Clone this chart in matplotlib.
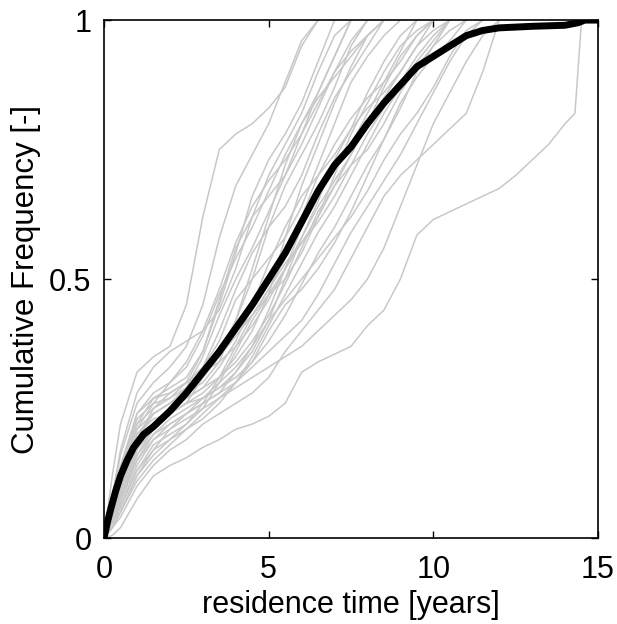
import numpy as np
import matplotlib.pyplot as plt

# common time grid (years) for the individual cumulative curves
GRID_X = [0, 0.25, 0.5, 1, 1.5, 2, 2.5, 3, 3.5, 4, 4.5, 5, 5.5, 6, 6.5, 7,
          7.5, 8, 8.5, 9, 9.5, 10, 10.5, 11, 11.5, 12, 12.5, 13, 13.5, 14,
          14.3, 14.5, 15]

# individual realisations, each stops once it hits 1
c01 = [0, .12, .22, .32, .35, .37, .45, .62, .75, .78, .80, .83, .87, .95, 1]
c02 = [0, .08, .16, .26, .30, .33, .37, .45, .58, .68, .74, .80, .88, .96, 1]
c03 = [0, .06, .12, .22, .27, .29, .31, .36, .45, .55, .66, .73, .78, .84, .92, 1]
c04 = [0, .05, .10, .19, .24, .26, .28, .30, .34, .42, .52, .62, .72, .80, .86, .93, 1]
c05 = [0, .04, .09, .18, .22, .25, .27, .29, .31, .35, .40, .47, .58, .68, .76, .84, .91, .97, 1]
c06 = [0, .07, .14, .24, .27, .28, .30, .33, .38, .46, .50, .54, .58, .64, .72, .80, .88, .93, .97, 1]
c07 = [0, .03, .07, .15, .20, .23, .25, .27, .30, .33, .37, .44, .52, .60, .66, .71, .76, .82, .88, .94, 1]
c08 = [0, .05, .11, .20, .23, .24, .26, .31, .36, .40, .43, .47, .50, .55, .62, .70, .78, .84, .90, .95, .98, 1]
c09 = [0, .02, .05, .12, .17, .21, .24, .27, .29, .31, .34, .38, .43, .49, .55, .60, .66, .72, .77, .83, .90, .95, 1]
c10 = [0, .04, .08, .16, .20, .22, .24, .26, .28, .30, .34, .40, .45, .48, .52, .57, .63, .70, .77, .84, .89, .93, .96, 1]
c11 = [0, .03, .06, .13, .17, .19, .21, .23, .26, .30, .33, .36, .39, .42, .47, .53, .59, .64, .69, .74, .80, .86, .92, .97, 1]
c12 = [0, .02, .04, .10, .14, .17, .19, .22, .24, .26, .28, .31, .36, .40, .44, .48, .54, .60, .66, .70, .73, .76, .79, .82, .90, 1]
c13 = [0, .005, .02, .075, .12, .14, .155, .175, .19, .21, .22, .235, .26, .32, .34, .355, .37,
       .41, .44, .50, .585, .615, .63, .645, .66, .675, .70, .73, .76, .80, .82, 1, 1]
c14 = [0, .06, .13, .23, .26, .27, .29, .32, .36, .42, .50, .60, .68, .74, .80, .87, .95, 1]
c15 = [0, .05, .10, .17, .21, .24, .28, .33, .40, .48, .55, .60, .64, .70, .78, .85, .90, .95, 1]
c16 = [0, .03, .08, .17, .22, .25, .27, .29, .33, .38, .45, .53, .60, .66, .70, .74, .79, .86, .92, .97, 1]
c17 = [0, .04, .09, .19, .25, .28, .30, .32, .34, .37, .41, .46, .52, .58, .65, .73, .79, .83, .86, .90, .95, 1]
c18 = [0, .02, .06, .14, .19, .22, .24, .26, .28, .32, .37, .42, .46, .50, .54, .58, .62, .67, .73, .78, .82, .87, .93, .98, 1]
c19 = [0, .03, .07, .15, .19, .21, .23, .25, .27, .29, .31, .33, .35, .37, .40, .43, .46, .50, .56, .64, .72, .80, .86, .92, .97, 1]
c20 = [0, .08, .17, .28, .33, .36, .38, .40, .44, .52, .62, .70, .76, .82, .90, .97, 1]
c21 = [0, .05, .11, .21, .26, .30, .34, .40, .48, .57, .64, .69, .73, .78, .84, .90, .94, .97, 1]
c22 = [0, .03, .06, .13, .18, .20, .22, .25, .30, .36, .42, .47, .52, .57, .61, .66, .72, .78, .83, .88, .93, .97, 1]
c23 = [0, .04, .09, .18, .22, .24, .26, .28, .31, .34, .38, .43, .49, .56, .63, .68, .72, .75, .80, .86, .91, .95, .98, 1]
c24 = [0, .02, .05, .11, .15, .18, .21, .24, .27, .30, .35, .41, .47, .53, .59, .64, .70, .76, .82, .87, .92, .96, 1]
c25 = [0, .06, .12, .21, .24, .26, .29, .35, .43, .50, .56, .63, .70, .78, .86, .93, 1]
c26 = [0, .04, .10, .20, .24, .26, .28, .31, .35, .39, .43, .48, .54, .62, .70, .76, .81, .85, .88, .92, .97, 1]
c27 = [0, .05, .12, .22, .25, .27, .30, .36, .46, .56, .62, .66, .70, .76, .83, .90, .96, 1]
c28 = [0, .03, .07, .16, .21, .24, .26, .27, .29, .32, .36, .42, .50, .58, .64, .69, .74, .80, .87, .93, .97, 1]
c29 = [0, .06, .13, .24, .28, .30, .33, .39, .47, .54, .60, .67, .74, .80, .85, .89, .93, .97, 1]
c30 = [0, .02, .05, .12, .16, .19, .22, .26, .31, .37, .43, .48, .53, .57, .62, .68, .74, .80, .85, .90, .95, .98, 1]

curves = [c01, c02, c03, c04, c05, c06, c07, c08, c09, c10, c11, c12, c13, c14, c15,
          c16, c17, c18, c19, c20, c21, c22, c23, c24, c25, c26, c27, c28, c29, c30]

# ensemble mean curve
mean_x = [0, 0.1, 0.2, 0.35, 0.5, 0.7, 0.9, 1.2, 1.5, 2.0, 2.5, 3.0, 3.5, 4.0, 4.5,
          5.0, 5.5, 6.0, 6.5, 7.0, 7.5, 8.0, 8.5, 9.0, 9.5, 10, 10.5, 11, 11.5,
          12, 13, 14, 14.4, 14.6, 15]
mean_y = [0, 0.03, 0.055, 0.09, 0.12, 0.15, 0.175, 0.2, 0.215, 0.245, 0.28, 0.32,
          0.36, 0.405, 0.45, 0.5, 0.55, 0.61, 0.67, 0.72, 0.755, 0.8, 0.84, 0.875,
          0.91, 0.93, 0.95, 0.97, 0.98, 0.985, 0.988, 0.99, 0.995, 1.0, 1.0]

plt.rcParams['font.family'] = ['Liberation Sans', 'DejaVu Sans']

fig = plt.figure(figsize=(6.17, 6.24), dpi=100)
ax = fig.add_axes([0.1686, 0.1378, 0.8006, 0.830])

for c in curves:
    ax.plot(GRID_X[:len(c)], c, color='#c8c8c8', lw=1.1, zorder=2)
ax.plot(mean_x, mean_y, color='black', lw=5, solid_capstyle='butt', zorder=3)

ax.set_xlim(0, 15)
ax.set_ylim(0, 1)
ax.set_xticks([0, 5, 10, 15])
ax.set_yticks([0, 0.5, 1])
ax.set_yticklabels(['0', '0.5', '1'])
ax.tick_params(direction='in', length=5, width=1, top=True, right=True,
               labelsize=22, colors='black')
ax.tick_params(axis='x', pad=12)
ax.tick_params(axis='y', pad=9)
for s in ax.spines.values():
    s.set_linewidth(1.2)
    s.set_zorder(4)

ax.set_xlabel('residence time [years]', fontsize=22, labelpad=4)
ax.set_ylabel('Cumulative Frequency [-]', fontsize=22.5, labelpad=6)

fig.savefig('out.png', dpi=100)
